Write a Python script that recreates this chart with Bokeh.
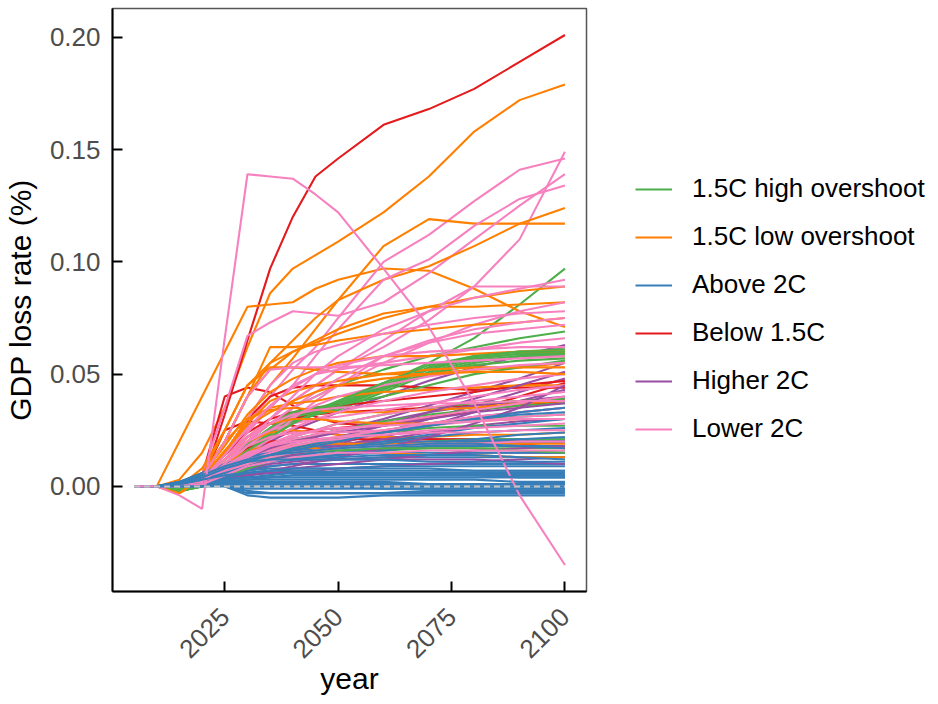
import math
import numpy as np
from bokeh.plotting import figure
from bokeh.models import Range1d, FixedTicker, PrintfTickFormatter, Legend, LegendItem
from bokeh.embed import file_html
from bokeh.resources import INLINE

years = [2005, 2010, 2015, 2020, 2025, 2030, 2035, 2040, 2045, 2050, 2060, 2070, 2080, 2090, 2100]
N = None
# GDP loss rate values in thousandths of a percent (35 -> 0.035 %)
high_overshoot = [
    [N, 0, -2, 1, 10, 18, 24, 30, 34, 38, 46, 55, 66, 81, 97],
    [N, 0, -2, 1, 9, 18, 25, 35, 40, 45, 52, 58, 62, 66, 69],
    [N, 0, -2, 0, 8, 16, 23, 29, 33, 36, 44, 52, 57, 59, 60],
    [N, 0, -2, 1, 10, 19, 26, 31, 34, 37, 45, 53, 57, 59, 59],
    [N, 0, -1, 1, 9, 18, 25, 30, 33, 35, 43, 51, 56, 58, 58],
    [N, 0, -2, 0, 7, 15, 22, 28, 32, 35, 44, 53, 58, 60, 61],
    [N, 0, -1, 1, 8, 17, 24, 29, 32, 34, 42, 50, 54, 56, 57],
    [N, 0, -2, 1, 9, 18, 26, 32, 35, 37, 44, 50, 55, 58, 62],
    [N, 0, -1, 2, 10, 20, 28, 33, 35, 36, 40, 45, 50, 53, 56],
    [N, 0, -1, 1, 7, 13, 18, 22, 25, 28, 32, 35, 37, 38, 39],
    [N, 0, -1, 1, 6, 12, 16, 20, 23, 25, 29, 32, 34, 36, 37],
    [N, 0, -1, 0, 5, 9, 12, 14, 16, 17, 19, 20, 21, 21, 21],
    [N, 0, -1, 0, 4, 8, 11, 13, 14, 15, 16, 17, 17, 17, 17],
    [N, 0, -1, 1, 6, 11, 15, 18, 20, 22, 25, 28, 30, 31, 32],
    [N, 0, -2, 0, 5, 10, 14, 17, 19, 21, 24, 26, 27, 27, 27],
    [N, 0, -1, 1, 8, 16, 22, 28, 33, 38, 46, 54, 58, 60, 60],
    [N, 0, -2, 0, 5, 10, 13, 15, 16, 16, 17, 17, 17, 16, 15],
]
low_overshoot = [
    [N, 0, 3, 15, 35, 62, 86, 97, 103, 109, 122, 138, 158, 172, 179],
    [N, 0, 20, 40, 60, 80, 81, 82, 88, 92, 97, 96, 88, 78, 71],
    [N, N, 0, 5, 15, 30, 45, 57, 70, 83, 107, 119, 117, 117, 117],
    [N, 0, 0, 5, 20, 40, 55, 65, 75, 83, 92, 98, 107, 117, 124],
    [N, 0, 0, 8, 25, 45, 55, 60, 64, 68, 75, 80, 84, 87, 89],
    [N, 0, 0, 5, 20, 40, 52, 60, 65, 70, 77, 80, 80, 81, 82],
    [N, 0, 0, 5, 20, 40, 62, 62, 63, 65, 68, 70, 72, 73, 75],
    [N, 0, 0, 5, 25, 45, 53, 53, 52, 51, 50, 50, 52, 53, 55],
    [N, 0, 0, 3, 15, 28, 38, 42, 45, 47, 50, 52, 53, 53, 53],
    [N, 0, -2, 3, 15, 30, 35, 37, 38, 40, 42, 43, 44, 45, 45],
    [N, 0, 0, 5, 20, 30, 34, 35, 34, 33, 33, 34, 35, 37, 38],
    [N, 0, 0, 3, 12, 20, 24, 25, 24, 23, 22, 22, 23, 23, 24],
    [N, 0, 0, 2, 10, 16, 18, 18, 17, 16, 15, 14, 14, 13, 13],
    [N, 0, -3, 2, 8, 14, 17, 18, 19, 19, 19, 19, 19, 19, 19],
    [N, 0, 0, 5, 18, 32, 42, 48, 52, 55, 58, 58, 59, 60, 60],
    [N, 0, 0, 3, 12, 22, 28, 30, 30, 29, 28, 28, 29, 30, 30],
    [N, 0, -3, 4, 16, 27, 33, 38, 42, 45, 48, 50, 51, 51, 50],
]
above_2c = [
    [N, N, N, N, 0, -4, -5, -5, -5, -5, -4, -4, -4, -4, -4],
    [N, N, N, N, 0, -3, -3, -3, -3, -3, -3, -2, -2, -2, -2],
    [N, N, N, N, 0, -1, -1, -1, -1, -1, -1, -1, -1, -1, -1],
    [N, N, N, N, 0, -2, -3, -3, -3, -3, -3, -3, -3, -3, -3],
    [0, 0, 0, 1, 2, 3, 3, 3, 3, 3, 3, 3, 3, 2, 2],
    [0, 0, 1, 2, 4, 5, 6, 6, 6, 6, 6, 6, 6, 6, 6],
    [N, 0, 1, 3, 5, 7, 8, 8, 8, 8, 8, 8, 7, 7, 7],
    [N, 0, 1, 3, 6, 8, 9, 10, 10, 10, 10, 10, 10, 10, 10],
    [N, 0, 2, 5, 8, 10, 11, 12, 12, 12, 13, 13, 13, 13, 13],
    [N, 0, 2, 5, 9, 12, 13, 14, 14, 14, 15, 15, 15, 15, 15],
    [N, 0, 1, 4, 8, 11, 13, 14, 15, 16, 17, 18, 18, 18, 18],
    [N, 0, 2, 6, 10, 13, 15, 16, 17, 18, 19, 20, 20, 20, 20],
    [N, 0, 1, 4, 7, 9, 11, 12, 13, 14, 16, 18, 20, 21, 22],
    [N, 0, 2, 5, 8, 11, 12, 13, 14, 15, 17, 19, 21, 23, 24],
    [N, 0, 1, 4, 8, 12, 14, 15, 16, 17, 19, 22, 24, 25, 26],
    [N, 0, 1, 3, 6, 9, 11, 13, 15, 17, 20, 23, 26, 28, 30],
    [N, 0, 2, 6, 10, 13, 15, 17, 19, 21, 24, 27, 30, 32, 33],
    [N, 0, 1, 4, 8, 11, 14, 16, 18, 20, 24, 27, 30, 33, 35],
    [0, 0, 0, 1, 1, 2, 2, 2, 2, 2, 2, 1, 1, 1, 1],
    [0, 0, 0, 0, 1, 1, 1, 1, 1, 1, 1, 1, 1, 1, 1],
    [N, 0, 1, 2, 3, 4, 4, 4, 4, 4, 4, 4, 4, 4, 4],
    [N, 0, 0, 1, 2, 3, 4, 5, 5, 5, 5, 5, 5, 5, 5],
    [N, 0, 1, 2, 4, 6, 7, 8, 8, 8, 9, 9, 9, 9, 9],
    [N, 0, 1, 2, 3, 4, 5, 6, 6, 7, 7, 7, 7, 7, 7],
    [N, 0, 1, 3, 6, 9, 11, 12, 13, 13, 14, 14, 14, 13, 12],
    [N, 0, 0, 1, 2, 2, 2, 1, 1, 1, 0, 0, 0, 0, 0],
    [N, 0, 1, 5, 9, 12, 14, 15, 16, 17, 18, 19, 19, 18, 17],
    [N, 0, 0, 0, 0, 0, 0, 0, 0, 0, -1, -1, -1, -1, -1],
    [N, 0, 1, 4, 8, 11, 12, 12, 12, 12, 12, 11, 11, 11, 11],
    [N, 0, 1, 3, 5, 6, 7, 7, 7, 6, 6, 5, 5, 4, 4],
]
below_15c = [
    [N, N, 0, 1, 32, 65, 97, 120, 138, 146, 161, 168, 177, 189, 201],
    [N, 0, 0, 5, 40, 44, 42, 36, 31, 28, 27, 30, 34, 40, 46],
    [N, 0, 0, 3, 25, 29, 28, 27, 25, 23, 22, 21, 20, 19, 17],
    [N, 0, 0, 3, 15, 30, 40, 44, 45, 45, 45, 44, 43, 44, 44],
    [N, 0, 0, 2, 12, 22, 28, 30, 32, 33, 34, 35, 36, 38, 39],
    [N, 0, 0, 2, 10, 18, 22, 24, 25, 26, 28, 31, 34, 36, 38],
    [N, 0, 0, 2, 10, 17, 20, 21, 21, 21, 21, 21, 21, 20, 20],
    [N, 0, 0, 3, 14, 24, 30, 33, 35, 36, 38, 40, 42, 45, 47],
]
higher_2c = [
    [N, 0, 0, 2, 8, 14, 20, 25, 29, 33, 40, 47, 53, 58, 63],
    [N, 0, 0, 2, 6, 10, 13, 15, 17, 19, 24, 30, 36, 42, 48],
    [N, 0, 0, 1, 5, 9, 12, 14, 16, 18, 22, 27, 33, 38, 43],
    [N, 0, 0, 2, 7, 12, 16, 19, 22, 25, 30, 36, 42, 48, 55],
    [N, 0, 1, 3, 8, 12, 15, 17, 18, 19, 20, 21, 21, 21, 21],
    [N, 0, 0, 1, 4, 7, 9, 10, 11, 12, 13, 14, 15, 15, 15],
    [N, 0, 1, 3, 6, 9, 11, 12, 13, 14, 16, 18, 19, 20, 20],
    [N, 0, 1, 4, 9, 14, 18, 21, 23, 25, 29, 33, 36, 38, 40],
    [N, 0, 0, 2, 5, 8, 10, 11, 12, 12, 12, 12, 12, 11, 10],
    [N, 0, 0, 1, 3, 5, 6, 7, 7, 8, 9, 10, 11, 12, 13],
    [N, 0, 1, 3, 7, 11, 14, 16, 18, 20, 24, 28, 31, 33, 35],
    [N, 0, 0, 2, 6, 10, 13, 16, 19, 22, 27, 33, 39, 45, 51],
    [N, 0, 0, 2, 5, 9, 12, 14, 16, 18, 21, 24, 27, 29, 30],
    [N, 0, 1, 2, 4, 6, 7, 8, 9, 10, 12, 14, 16, 17, 18],
    [N, 0, 0, 3, 8, 13, 17, 20, 22, 24, 27, 30, 33, 35, 37],
    [N, 0, 0, 1, 3, 5, 7, 9, 11, 13, 17, 22, 28, 35, 45],
]
lower_2c = [
    [N, 0, 0, 3, 12, 22, 30, 38, 45, 52, 62, 74, 89, 110, 149],
    [N, 0, 0, 3, 15, 28, 40, 52, 62, 75, 100, 112, 127, 141, 146],
    [N, 0, 0, 5, 35, 67, 73, 78, 77, 76, 82, 95, 110, 125, 139],
    [N, 0, 0, 3, 14, 25, 35, 45, 58, 70, 92, 101, 116, 128, 134],
    [N, 0, 0, 3, 12, 22, 30, 38, 45, 52, 65, 78, 89, 89, 89],
    [N, 0, 0, 2, 10, 20, 28, 35, 40, 45, 55, 64, 72, 78, 82],
    [N, 0, 0, 3, 15, 30, 45, 55, 60, 63, 68, 72, 75, 77, 78],
    [N, 0, 0, 2, 8, 15, 22, 30, 38, 45, 58, 65, 70, 73, 75],
    [N, 0, 0, 2, 10, 20, 28, 35, 42, 48, 58, 64, 68, 70, 72],
    [N, 0, 0, 3, 12, 24, 35, 45, 50, 52, 55, 58, 61, 64, 66],
    [N, 0, 0, 2, 9, 18, 25, 31, 36, 40, 45, 49, 52, 54, 55],
    [N, 0, 0, 2, 8, 15, 21, 26, 30, 33, 38, 42, 45, 48, 50],
    [N, 0, 1, 4, 12, 20, 25, 28, 30, 31, 34, 37, 40, 43, 45],
    [N, 0, 0, 2, 8, 14, 18, 21, 23, 25, 28, 31, 34, 37, 40],
    [N, 0, 0, 2, 7, 12, 16, 19, 21, 22, 25, 28, 31, 33, 35],
    [N, 0, 1, 3, 10, 18, 22, 24, 24, 24, 25, 27, 29, 31, 32],
    [N, 0, 0, 2, 6, 11, 15, 18, 20, 21, 23, 25, 26, 27, 28],
    [N, 0, 0, 3, 9, 15, 18, 20, 21, 22, 23, 24, 24, 25, 25],
    [N, 0, 0, 2, 8, 14, 19, 23, 25, 26, 27, 28, 29, 30, 30],
    [N, 0, 0, 3, 12, 22, 28, 32, 34, 35, 36, 37, 37, 38, 38],
    [N, 0, 0, 3, 14, 26, 36, 44, 50, 54, 58, 60, 61, 62, 62],
    [N, 0, 0, 4, 20, 40, 52, 53, 53, 53, 54, 55, 56, 57, 58],
    [N, 0, 0, 2, 6, 10, 13, 15, 16, 17, 18, 19, 19, 20, 20],
    [N, 0, 0, 2, 7, 13, 18, 22, 25, 28, 32, 35, 38, 40, 42],
    [N, 0, 0, 2, 10, 20, 30, 40, 50, 58, 70, 78, 84, 88, 92],
    [N, 0, 0, 1, 5, 9, 11, 13, 14, 15, 15, 16, 16, 16, 16],
    [0, 0, -4, -10, 66, 139, 138, 137, 130, 122, 97, 71, 37, -4, -35],
]
zero_line = [0, 0, 0, 0, 0, 0, 0, 0, 0, 0, 0, 0, 0, 0, 0]

groups = [
    ("1.5C high overshoot", "#4DAF4A", high_overshoot),
    ("1.5C low overshoot", "#FF7F00", low_overshoot),
    ("Above 2C", "#377EB8", above_2c),
    ("Below 1.5C", "#E41A1C", below_15c),
    ("Higher 2C", "#984EA3", higher_2c),
    ("Lower 2C", "#F781BF", lower_2c),
]

FONT = "Liberation Sans"

p = figure(output_backend="svg", toolbar_location=None,
           x_range=Range1d(2000.25, 2104.75), y_range=Range1d(-0.0468, 0.2128))
p.frame_width = 474
p.frame_height = 583
p.min_border_top = 8
p.min_border_left = 104
p.min_border_right = 344
p.min_border_bottom = 100
p.background_fill_color = "white"
p.border_fill_color = "white"
p.outline_line_color = "#555555"
p.outline_line_width = 1.5
p.xgrid.visible = False
p.ygrid.visible = False

first = {}
maxlen = max(len(g[2]) for g in groups)
for i in range(maxlen):
    for label, color, series in groups:
        if i < len(series):
            yv = np.array([np.nan if v is None else v / 1000.0 for v in series[i]], dtype=float)
            r = p.line(years, yv, line_color=color, line_width=2.1)
            first.setdefault(label, r)

p.line(years, [v / 1000.0 for v in zero_line], line_color="#c4c4c4", line_width=2, line_dash="6 4")

for ax in (p.xaxis[0], p.yaxis[0]):
    ax.axis_line_color = "black"
    ax.axis_line_width = 2
    ax.major_tick_line_color = "black"
    ax.major_tick_line_width = 2
    ax.major_tick_in = 10
    ax.major_tick_out = 0
    ax.minor_tick_line_color = None
    ax.major_label_text_font = FONT
    ax.major_label_text_font_size = "26px"
    ax.major_label_text_color = "#4d4d4d"
    ax.axis_label_text_font = FONT
    ax.axis_label_text_font_size = "30px"
    ax.axis_label_text_font_style = "normal"
    ax.axis_label_text_color = "black"

p.xaxis.ticker = FixedTicker(ticks=[2025, 2050, 2075, 2100])
p.xaxis.major_label_orientation = math.pi / 4
p.xaxis.major_label_standoff = 21
p.xaxis.axis_label = "year"
p.xaxis.axis_label_standoff = -7

p.yaxis.ticker = FixedTicker(ticks=[0.0, 0.05, 0.10, 0.15, 0.20])
p.yaxis.formatter = PrintfTickFormatter(format="%.2f")
p.yaxis.major_label_standoff = 12
p.yaxis.axis_label = "GDP loss rate (%)"
p.yaxis.axis_label_standoff = 10

items = [LegendItem(label=label, renderers=[first[label]]) for label, _, _ in groups]
legend = Legend(items=items, location=(49, 147), orientation="vertical",
                label_text_font=FONT, label_text_font_size="26px", label_text_color="black",
                glyph_width=37, glyph_height=30, label_height=30, label_standoff=20,
                spacing=17, padding=0, margin=0, border_line_color=None,
                background_fill_alpha=0)
p.add_layout(legend, "right")

open("out.html", "w").write(file_html(p, INLINE))
